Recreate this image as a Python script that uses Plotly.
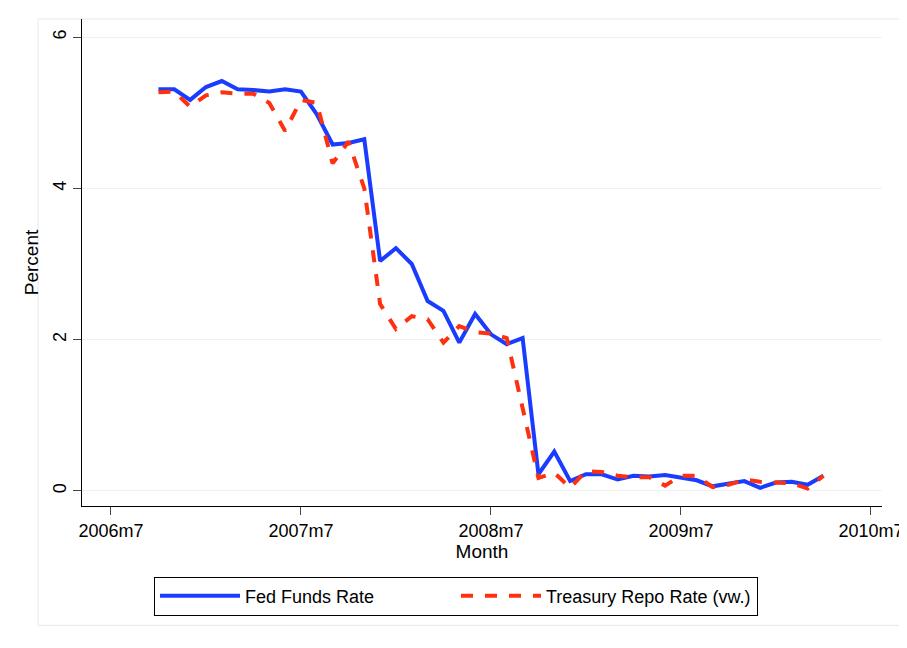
import plotly.graph_objects as go

# months since 2006m7 (2006m10 .. 2010m4)
months = list(range(3, 46))

fed_funds = [5.31, 5.31, 5.17, 5.34, 5.42, 5.31, 5.30, 5.28, 5.31, 5.28,
             4.98, 4.58, 4.60, 4.65, 3.04, 3.21, 3.00, 2.51, 2.38, 1.96,
             2.34, 2.07, 1.94, 2.02, 0.22, 0.52, 0.13, 0.22, 0.22, 0.15,
             0.20, 0.19, 0.21, 0.18, 0.14, 0.06, 0.10, 0.13, 0.04, 0.11,
             0.12, 0.08, 0.20]
repo = [5.27, 5.28, 5.08, 5.23, 5.27, 5.25, 5.25, 5.13, 4.76, 5.17,
        5.13, 4.33, 4.62, 4.00, 2.47, 2.14, 2.31, 2.27, 1.96, 2.18,
        2.10, 2.08, 2.02, 1.10, 0.17, 0.24, 0.04, 0.26, 0.25, 0.20,
        0.18, 0.18, 0.07, 0.20, 0.20, 0.05, 0.08, 0.15, 0.12, 0.11,
        0.10, 0.03, 0.20]

tick_vals = [0, 12, 24, 36, 48]
tick_text = ["2006m7", "2007m7", "2008m7", "2009m7", "2010m7"]

fig = go.Figure()
fig.add_trace(go.Scatter(x=months, y=fed_funds, mode="lines", name="Fed Funds Rate",
                         line=dict(color="#1a3cff", width=4)))
fig.add_trace(go.Scatter(x=months, y=repo, mode="lines", name="Treasury Repo Rate (vw.)",
                         line=dict(color="#ff3010", width=4, dash="dash")))

fig.update_layout(
    width=907, height=648,
    margin=dict(l=74, r=33, t=11, b=150, autoexpand=False),
    paper_bgcolor="white", plot_bgcolor="white",
    font=dict(family="Liberation Sans, Arial", size=18, color="black"),
    showlegend=True,
    legend=dict(orientation="h", x=0.09, xanchor="left", y=-0.145, yanchor="top",
                bordercolor="black", borderwidth=1, font=dict(size=18),
                itemwidth=80, entrywidth=206, tracegroupgap=0),
    shapes=[dict(type="rect", xref="paper", yref="paper", x0=-0.055, x1=1.025,
                 y0=-0.245, y1=1.0, line=dict(color="#e8e8e8", width=1), layer="below")],
)
fig.update_xaxes(range=[-1.83, 48.7], tickvals=tick_vals, ticktext=tick_text,
                 showgrid=False, showline=True, linecolor="black", ticks="outside",
                 ticklen=8, title=dict(text="Month", standoff=2, font=dict(size=19)),
                 zeroline=False, automargin=False)
fig.update_yaxes(range=[-0.2, 6.24], tickvals=[0, 2, 4, 6], tickangle=-90,
                 showgrid=True, gridcolor="#eef2f5", showline=True, linecolor="black",
                 ticks="outside", ticklen=8,
                 title=dict(text="Percent", standoff=6, font=dict(size=19)),
                 zeroline=False, automargin=False)

fig.write_html("out.html")
